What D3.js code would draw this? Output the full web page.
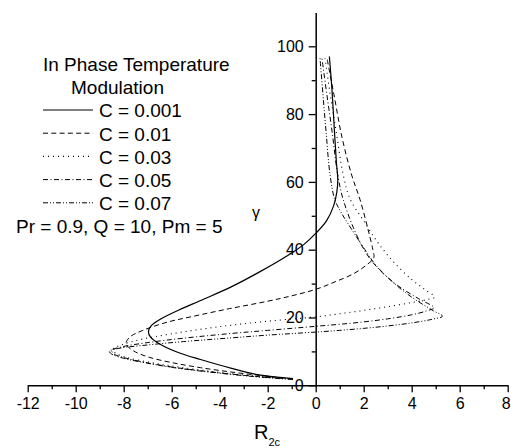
<!DOCTYPE html>
<html>
<head>
<meta charset="utf-8">
<script src="https://cdn.jsdelivr.net/npm/d3@7/dist/d3.min.js"></script>
<style>
  html, body { margin: 0; padding: 0; background: #fff; }
  svg { display: block; }
  text { font-family: "Liberation Sans", Arial, sans-serif; fill: #000; }
</style>
</head>
<body>
<svg id="chart" width="511" height="448"></svg>
<script>
// Critical Rayleigh number correction R2c versus modulation frequency gamma,
// in-phase temperature modulation, one curve per amplitude C.
const cLabels = ["C = 0.001", "C = 0.01", "C = 0.03", "C = 0.05", "C = 0.07"];
const xTicks = [-12, -10, -8, -6, -4, -2, 0, 2, 4, 6, 8];
const yTicks = [0, 20, 40, 60, 80, 100];

// Each curve: [R2c, gamma] in path order
const curveC001 = [[-0.95,2.0],[-2.3,3.0],[-3.5,5.0],[-4.8,7.6],[-5.7,9.6],[-6.5,12.2],[-6.88,14.2],[-6.97,15.8],[-6.85,17.6],[-6.4,19.8],[-5.7,22.2],[-4.8,25.0],[-3.5,29.1],[-2.3,33.6],[-1.1,38.6],[-0.5,41.5],[0,44.8],[0.45,48.5],[0.75,53],[0.88,57],[0.92,60.5],[0.86,66],[0.78,75],[0.68,87],[0.57,97]];
const curveC01 = [[-0.95,1.9],[-2.3,2.9],[-3.5,3.9],[-4.8,5.2],[-6,6.7],[-7,8.4],[-7.6,10.2],[-7.9,12.2],[-7.75,14.2],[-7.2,16.2],[-6.2,18.6],[-5.2,20.2],[-3.6,22.6],[-2,24.8],[-1,26.4],[0,28.3],[0.8,30.5],[1.6,33],[2.1,35.4],[2.42,37.6],[2.38,40],[2.18,46],[1.85,54.7],[1.5,62],[1.1,73],[0.78,85],[0.47,96.5]];
const curveC03 = [[-0.95,1.8],[-2.3,2.6],[-3.5,3.4],[-4.8,4.5],[-6,5.7],[-7,6.9],[-7.9,8.3],[-8.35,9.5],[-8.45,10.6],[-8.1,11.9],[-7.3,13.5],[-6,15.2],[-4,17.3],[-2,18.9],[0,20.2],[1,21.1],[2,22.1],[3,23.2],[4,24.4],[4.65,25.3],[4.95,26],[4.5,28.5],[4.0,31.2],[3.23,36.5],[2.6,42],[2,48.5],[1.43,55],[1.15,62],[0.85,75],[0.6,86],[0.39,96.5]];
const curveC05 = [[-0.95,1.8],[-2.3,2.5],[-3.5,3.3],[-4.8,4.3],[-6,5.4],[-7,6.6],[-7.9,8.0],[-8.4,9.2],[-8.5,10.3],[-8.1,11.3],[-7,12.6],[-5.5,13.9],[-3.5,15.3],[-2,16.2],[0,17.4],[1,18.0],[2,18.7],[3,19.6],[4,20.8],[4.6,21.9],[4.92,22.9],[4.3,25.5],[3.4,29.5],[2.6,34.5],[2.1,39],[1.6,46],[1.15,54.7],[0.92,62],[0.68,75],[0.46,86],[0.26,96.5]];
const curveC07 = [[-0.95,1.7],[-2.3,2.4],[-3.5,3.2],[-4.8,4.2],[-6,5.3],[-7,6.5],[-7.9,7.8],[-8.45,9.0],[-8.6,10.0],[-8.2,10.9],[-7,11.9],[-5.5,12.9],[-3.5,14.0],[-2,14.8],[0,15.7],[1,16.2],[2,16.8],[3,17.5],[4,18.4],[4.8,19.4],[5.28,20.4],[4.9,22],[4.0,26],[3.2,30.5],[2.5,35.5],[2.05,40],[1.5,46],[1.1,50.5],[0.8,54.7],[0.6,62],[0.43,75],[0.3,86],[0.18,96.5]];

const curves = [curveC001, curveC01, curveC03, curveC05, curveC07];
const dashes = [null, "5,3.3", "1,4", "5,2.5,1,2.5", "5,2,1,2,1,2"];
const widths = [1.2, 1, 1.1, 1, 1];

const svg = d3.select("#chart");
const x = d3.scaleLinear().domain([-12, 8]).range([27.7, 507.7]);
const y = d3.scaleLinear().domain([0, 110]).range([385.3, 12.4]);

// Axes cross at R2c = 0 and gamma = 0
const xAxisG = svg.append("g").attr("transform", `translate(0,${y(0)})`);
xAxisG.call(d3.axisBottom(x).tickValues(d3.range(-11, 8, 2)).tickSize(4).tickSizeOuter(0).tickFormat(""));
xAxisG.call(g => g.select(".domain").remove());
const xMajor = svg.append("g").attr("transform", `translate(0,${y(0)})`)
  .call(d3.axisBottom(x).tickValues(xTicks).tickSize(7).tickSizeOuter(0).tickPadding(5).tickFormat(d => String(d)));
// keep the last label inside the page edge
xMajor.selectAll(".tick text").filter(d => d === 8).attr("dx", -2);

const yAxisG = svg.append("g").attr("transform", `translate(${x(0)},0)`);
yAxisG.call(d3.axisLeft(y).tickValues(d3.range(10, 110, 20)).tickSize(4).tickSizeOuter(0).tickFormat(""));
yAxisG.call(g => g.select(".domain").remove());
const yMajor = svg.append("g").attr("transform", `translate(${x(0)},0)`)
  .call(d3.axisLeft(y).tickValues(yTicks).tickSize(7).tickSizeOuter(0).tickPadding(5).tickFormat(d => String(d)));

svg.selectAll(".domain").attr("stroke", "#000").attr("stroke-width", 1.5);
svg.selectAll(".tick line").attr("stroke", "#000").attr("stroke-width", 1.3);
svg.selectAll(".tick text").style("font-family", '"Liberation Sans", Arial, sans-serif').style("font-size", "16px").attr("fill", "#000");

// Curves
const line = d3.line().x(d => x(d[0])).y(d => y(d[1])).curve(d3.curveCatmullRom.alpha(0.5));
svg.append("g").selectAll("path").data(curves).join("path")
  .attr("d", line)
  .attr("fill", "none")
  .attr("stroke", "#000")
  .attr("stroke-width", (d, i) => widths[i])
  .attr("stroke-dasharray", (d, i) => dashes[i]);

// Axis titles
svg.append("text").attr("x", 252).attr("y", 218).style("font-size", "16px").text("γ");
const xt = svg.append("text").attr("x", 254).attr("y", 439).style("font-size", "20px");
xt.append("tspan").text("R");
xt.append("tspan").attr("dy", 7).style("font-size", "11px").text("2c");

// Legend
const legend = svg.append("g");
legend.append("text").attr("x", 43).attr("y", 71).style("font-size", "19px").text("In Phase Temperature");
legend.append("text").attr("x", 71).attr("y", 94).style("font-size", "19px").text("Modulation");
cLabels.forEach((lab, i) => {
  const yy = 110 + i * 23.2;
  legend.append("line").attr("x1", 43).attr("x2", 93).attr("y1", yy).attr("y2", yy)
    .attr("stroke", "#000").attr("stroke-width", widths[i]).attr("stroke-dasharray", dashes[i]);
  legend.append("text").attr("x", 99).attr("y", yy + 7.3).style("font-size", "19px").text(lab);
});
legend.append("text").attr("x", 16).attr("y", 232.7).style("font-size", "19px").text("Pr = 0.9, Q = 10, Pm = 5");
</script>
</body>
</html>
